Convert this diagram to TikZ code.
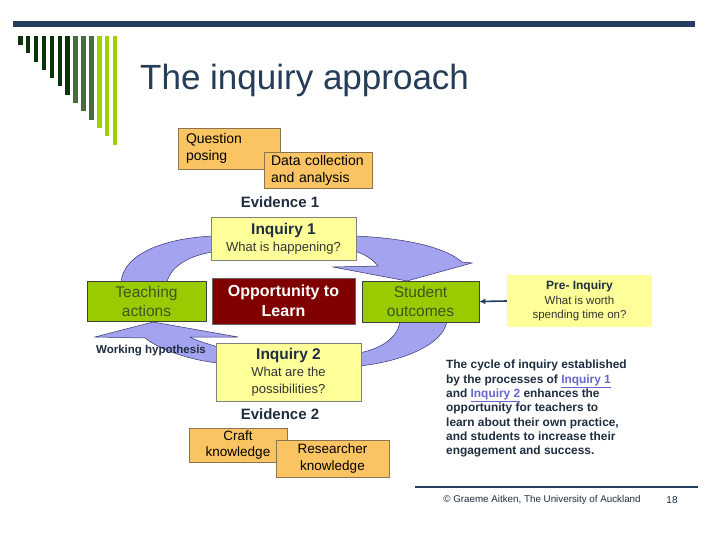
\documentclass[tikz,border=0pt]{standalone}
\usepackage{fontspec}
\setmainfont{Liberation Sans}
\usetikzlibrary{arrows.meta}
\definecolor{navy}{HTML}{243F5E}
\definecolor{titlec}{HTML}{263D57}
\definecolor{dkgreen}{HTML}{0B340B}
\definecolor{mdgreen}{HTML}{4A6B42}
\definecolor{lime}{HTML}{99CC00}
\definecolor{orangebox}{HTML}{FAC463}
\definecolor{orangeedge}{HTML}{8C7450}
\definecolor{yellowbox}{HTML}{FFFF99}
\definecolor{darkred}{HTML}{800000}
\definecolor{arrowfill}{HTML}{A3A3F0}
\definecolor{arrowedge}{HTML}{343470}
\definecolor{textdark}{HTML}{1E2E40}
\definecolor{subtext}{HTML}{333333}
\definecolor{olivetext}{HTML}{3E5522}
\definecolor{linkc}{HTML}{6666CC}
\newcommand{\fs}[2]{\fontsize{#1}{#2}\selectfont}
\tikzset{
  orangenode/.style={draw=orangeedge, fill=orangebox, line width=0.8pt, inner sep=0pt, text=black},
  yellownode/.style={draw=gray, fill=yellowbox, line width=0.8pt, inner sep=0pt, align=center, text=subtext},
  limenode/.style={draw=black!75, fill=lime, line width=0.8pt, inner sep=0pt, align=center, text=olivetext},
  bandarrow/.style={fill=arrowfill, draw=arrowedge, line width=0.5pt},
  evid/.style={font=\bfseries\fs{15}{18}, text=textdark, inner sep=0pt},
}
\begin{document}
\begin{tikzpicture}[x=1pt,y=-1pt]
\useasboundingbox (0,0) rectangle (720,540);
\fill[white] (0,0) rectangle (720,540);
% top bar
\fill[navy] (13,21) rectangle (695,27);
% left bars
\foreach \i in {0,...,6} {\fill[dkgreen] ({18+7.9*\i},36) rectangle ({22.5+7.9*\i},{45+8.3*\i});}
\foreach \i in {7,8,9} {\fill[mdgreen] ({18+7.9*\i},36) rectangle ({22.5+7.9*\i},{45+8.3*\i});}
\foreach \i in {10,11,12} {\fill[lime!90!yellow] ({18+7.9*\i},36) rectangle ({22.5+7.9*\i},{45+8.3*\i});}
% title
\node[anchor=base west, inner sep=0pt, text=titlec, font=\fs{35}{40}] (title) at (140,90) {The inquiry approach};

% band arrows (behind boxes)
\draw[bandarrow] (121,282) .. controls (124,252) and (168,238) .. (213,236) -- (213,252) .. controls (192,255) and (171,265) .. (167,282) -- cycle;
\draw[bandarrow] (354,236) .. controls (405,238) and (445,247) .. (462,262) -- (472,263) -- (407,281) -- (333,267) -- (378,266) .. controls (372,259) and (365,254) .. (354,251) -- cycle;
\draw[bandarrow] (447,320) .. controls (445,345) and (400,362) .. (359,366) -- (359,353) .. controls (385,348) and (399,335) .. (400,320) -- cycle;
\draw[bandarrow] (218,347) .. controls (205,343) and (195,340) .. (190,337) -- (238,337) -- (153,322) -- (95,337) -- (145,338) .. controls (160,350) and (190,360) .. (218,363) -- cycle;

% orange boxes
\node[orangenode, minimum width=102pt, minimum height=41pt, text width=86pt, align=left, font=\fs{14}{17}] (qp) at (229,148.5) {Question\\posing};
\node[orangenode, minimum width=108pt, minimum height=36pt, text width=94pt, align=left, font=\fs{14}{17}] (dc) at (318,170) {Data collection\\and analysis};
\node[evid] (ev1) at (280,202) {Evidence 1};

% inquiry 1
\node[yellownode, minimum width=145pt, minimum height=43pt, font=\fs{13}{17}] (inq1) at (283.5,238.5) {\textcolor{textdark}{\bfseries\fs{15.5}{18}Inquiry 1}\\What is happening?};

% middle row
\node[limenode, minimum width=119pt, minimum height=40pt, font=\fs{15.5}{19}] (teach) at (146.5,301) {Teaching\\actions};
\node[draw=black!60, fill=darkred, line width=0.8pt, inner sep=0pt, minimum width=143pt, minimum height=46pt, align=center, text=white, font=\bfseries\fs{16}{19.5}] (opp) at (283.5,301) {Opportunity to\\Learn};
\node[limenode, minimum width=117pt, minimum height=41pt, font=\fs{15.5}{19}] (stud) at (420.5,301.5) {Student\\outcomes};
\node[fill=yellowbox, inner sep=0pt, minimum width=145pt, minimum height=52pt, align=center, text=subtext, font=\fs{11.5}{14.5}] (pre) at (579.5,301) {\textcolor{textdark}{\bfseries\fs{12}{15}Pre- Inquiry}\\What is worth\\spending time on?};
\draw[-{Latex[length=6pt,width=6pt]}, navy, line width=1.6pt] (pre.west) -- (stud.east);

% working hypothesis
\node[inner sep=0pt, text=textdark, font=\bfseries\fs{11.5}{13}] (wh) at (151,351) {Working hypothesis};

% inquiry 2
\node[yellownode, minimum width=145pt, minimum height=58pt, font=\fs{13}{17}] (inq2) at (288.5,372) {\textcolor{textdark}{\bfseries\fs{15.5}{18}Inquiry 2}\\What are the\\possibilities?};
\node[evid] (ev2) at (280,414) {Evidence 2};
\node[orangenode, minimum width=98pt, minimum height=34pt, align=center, font=\fs{13.5}{16.5}] (craft) at (238,445) {Craft\\knowledge};
\node[orangenode, minimum width=113pt, minimum height=37pt, align=center, font=\fs{13.5}{17}] (res) at (332.5,458.5) {Researcher\\knowledge};

% paragraph
\node[anchor=north west, inner sep=0pt, align=left, text=textdark, font=\bfseries\fs{11.9}{14.33}] (para) at (446,360) {The cycle of inquiry established\\by the processes of \textcolor{linkc}{\underline{Inquiry 1}}\\and \textcolor{linkc}{\underline{Inquiry 2}} enhances the\\opportunity for teachers to\\learn about their own practice,\\and students to increase their\\engagement and success.};

% footer
\draw[navy, line width=2pt] (415,487) coordinate (fl) -- (698,487) coordinate (fr);
\node[inner sep=0pt, text=textdark, font=\fs{9.8}{11}] (foot) at (542,500) {\textcopyright\ Graeme Aitken, The University of Auckland};
\node[inner sep=0pt, text=textdark, font=\fs{10}{12}] (pg) at (672,500) {18};
\end{tikzpicture}
\end{document}
